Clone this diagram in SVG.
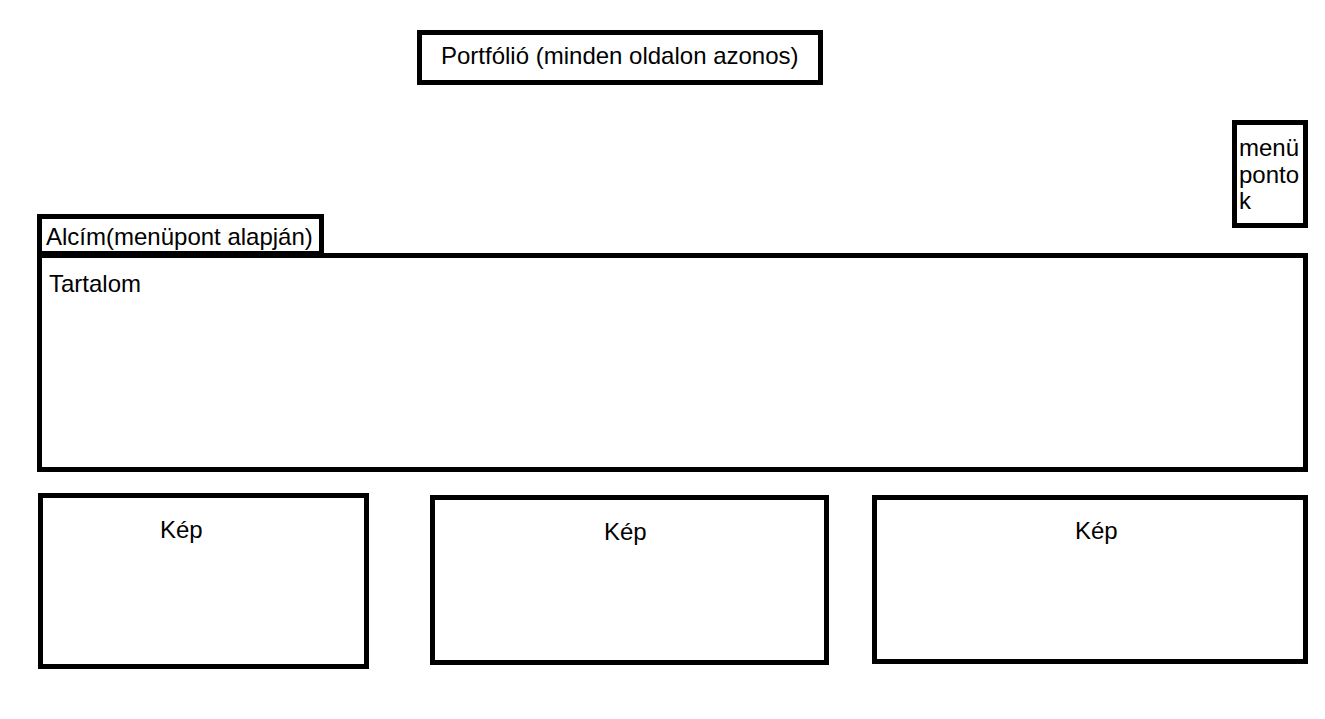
<svg xmlns="http://www.w3.org/2000/svg" width="1325" height="719" viewBox="0 0 1325 719">
<style>
rect.box{fill:#fff;stroke:#000;stroke-width:5}
text{font-family:"Liberation Sans",Arial,sans-serif;font-size:24px;fill:#000}
</style>
<rect width="1325" height="719" fill="#fff"/>
<g id="title"><rect class="box" x="419.5" y="32.5" width="401" height="50"/><text x="441" y="64">Portfólió (minden oldalon azonos)</text></g>
<g id="menu"><rect class="box" x="1234.5" y="122.5" width="71" height="103"/><text x="1239" y="156">menü</text><text x="1239" y="183">ponto</text><text x="1239" y="209">k</text></g>
<g id="content"><rect class="box" x="39.5" y="255.5" width="1266" height="214"/><text x="49" y="292">Tartalom</text></g>
<g id="subtitle"><rect class="box" x="39.5" y="216.5" width="282" height="37"/><text x="46" y="245">Alcím(menüpont alapján)</text></g>
<g id="kep1"><rect class="box" x="40.5" y="495.5" width="326" height="171"/><text x="160" y="538">Kép</text></g>
<g id="kep2"><rect class="box" x="432.5" y="497.5" width="394" height="165"/><text x="604" y="540">Kép</text></g>
<g id="kep3"><rect class="box" x="874.5" y="497.5" width="431" height="164"/><text x="1075" y="539">Kép</text></g>
<g id="connectors"/>
</svg>
